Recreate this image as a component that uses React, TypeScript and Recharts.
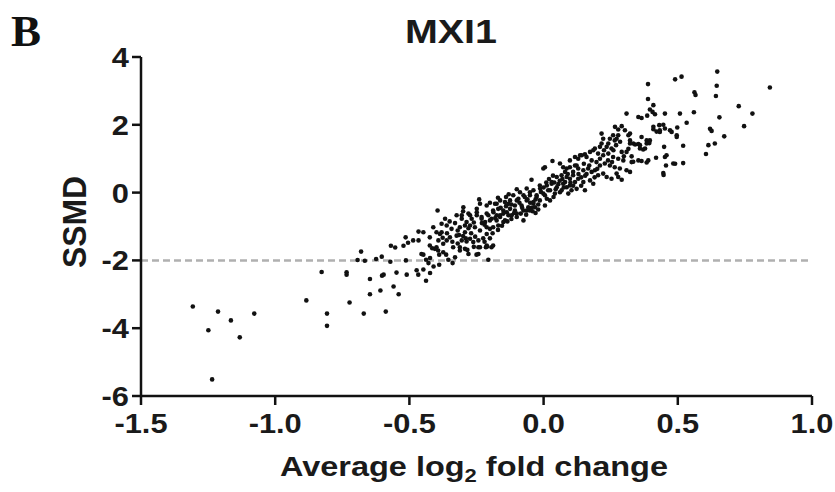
import React from 'react'
import {
  ScatterChart,
  Scatter,
  XAxis,
  YAxis,
  ReferenceLine
} from 'recharts'

// [avg log2 fold change, SSMD]
const leftTail = [
  [-1.307, -3.36], [-1.249, -4.06], [-1.213, -3.51], [-1.235, -5.51], [-1.165, -3.77],
  [-1.132, -4.27], [-1.078, -3.57], [-0.884, -3.18], [-0.827, -2.34], [-0.807, -3.57],
  [-0.807, -3.93], [-0.734, -2.35], [-0.734, -2.42], [-0.723, -3.24], [-0.68, -1.74],
  [-0.693, -1.99], [-0.666, -2.01], [-0.67, -3.57], [-0.647, -2.55], [-0.647, -3.0],
  [-0.624, -1.96], [-0.608, -2.89], [-0.603, -1.89], [-0.602, -2.45], [-0.596, -2.42],
  [-0.588, -3.51]
]

const lowerBand = [
  [-0.569, -1.57], [-0.553, -1.62], [-0.571, -2.04], [-0.548, -2.36], [-0.559, -2.77],
  [-0.54, -3.0], [-0.522, -1.57], [-0.514, -1.32], [-0.505, -1.48], [-0.513, -2.0],
  [-0.51, -2.42], [-0.466, -1.15], [-0.466, -1.41], [-0.473, -2.29], [-0.467, -2.42],
  [-0.486, -1.41], [-0.438, -2.6], [-0.448, -2.27], [-0.423, -2.37], [-0.389, -2.13],
  [-0.455, -1.81], [-0.448, -1.17], [-0.424, -1.32], [-0.424, -1.56], [-0.411, -1.02],
  [-0.405, -1.66], [-0.399, -1.17], [-0.399, -1.61], [-0.395, -0.53], [-0.393, -1.71],
  [-0.392, -1.41], [-0.386, -1.22], [-0.38, -0.92], [-0.38, -1.17], [-0.376, -1.33],
  [-0.374, -1.51], [-0.374, -1.76], [-0.367, -0.77], [-0.361, -1.41], [-0.361, -0.97],
  [-0.363, -1.83], [-0.355, -1.98], [-0.339, -2.08], [-0.349, -1.32], [-0.343, -1.07],
  [-0.337, -1.61], [-0.33, -1.91], [-0.324, -0.67], [-0.324, -1.27], [-0.415, -1.64],
  [-0.423, -1.93], [-0.429, -2.08], [-0.41, -2.18], [-0.438, -1.98], [-0.448, -1.83],
  [-0.389, -1.83], [-0.315, -1.25], [-0.312, -1.02], [-0.312, -1.61], [-0.312, -1.71],
  [-0.33, -0.9], [-0.32, -1.12], [-0.35, -0.85], [-0.36, -1.2], [-0.34, -1.45],
  [-0.32, -1.5]
]

const midBand = [
  [-0.305, -0.77], [-0.305, -1.41], [-0.305, -0.67], [-0.299, -0.43], [-0.293, -0.97],
  [-0.293, -1.17], [-0.293, -1.66], [-0.287, -0.87], [-0.284, -1.69], [-0.287, -1.44],
  [-0.28, -0.62], [-0.28, -1.81], [-0.274, -0.67], [-0.274, -0.97], [-0.274, -1.36],
  [-0.268, -0.77], [-0.262, -1.46], [-0.256, -1.02], [-0.25, -1.83], [-0.249, -0.48],
  [-0.249, -0.58], [-0.249, -0.67], [-0.243, -1.41], [-0.243, -1.61], [-0.243, -1.81],
  [-0.237, -0.33], [-0.237, -1.12], [-0.237, -1.61], [-0.231, -0.72], [-0.231, -0.77],
  [-0.218, -0.87], [-0.215, -1.61], [-0.212, -0.38], [-0.212, -0.62], [-0.212, -1.02],
  [-0.212, -1.22], [-0.212, -1.56], [-0.206, -0.67], [-0.206, -1.98], [-0.21, -1.59],
  [-0.2, -1.07], [-0.194, -0.77], [-0.194, -1.61], [-0.188, -0.53], [-0.188, -1.02],
  [-0.188, -1.56], [-0.187, -0.58], [-0.181, -0.33], [-0.175, -0.67], [-0.175, -0.33],
  [-0.175, -0.82], [-0.169, -0.48], [-0.169, -0.97], [-0.162, -0.72], [-0.162, -0.23],
  [-0.162, -0.67], [-0.15, -0.87], [-0.15, -0.53], [-0.144, -0.28], [-0.144, -0.82],
  [-0.14, -0.13], [-0.137, -0.58], [-0.131, -0.33], [-0.131, -0.67], [-0.125, -0.23],
  [-0.125, -0.48], [-0.119, -0.67], [-0.113, -0.08], [-0.107, -0.53], [-0.107, -0.38],
  [-0.1, -0.23], [-0.1, -0.62], [-0.094, -0.18], [-0.088, 0.01], [-0.082, -0.38],
  [-0.075, -0.08], [-0.075, -0.53], [-0.075, -0.82], [-0.07, -0.13], [-0.063, -0.53],
  [-0.063, 0.12], [-0.063, -0.23], [-0.057, -0.43], [-0.051, 0.01], [-0.051, -0.08],
  [-0.051, -0.53], [-0.045, 0.38], [-0.041, -0.55], [-0.038, -0.33], [-0.038, 0.07],
  [-0.038, -0.28], [-0.032, -0.43], [-0.026, -0.13], [-0.026, -0.08], [-0.014, 0.21],
  [-0.014, -0.23], [-0.013, 0.12], [-0.001, -0.03], [-0.001, 0.71],
  [-0.28, -1.05], [-0.26, -0.88], [-0.22, -0.95], [-0.2, -0.82], [-0.18, -0.75],
  [-0.16, -0.45], [-0.15, -0.62], [-0.14, -0.4], [-0.12, -0.35], [-0.11, -0.6],
  [-0.09, -0.3], [-0.08, -0.45], [-0.06, -0.2], [-0.05, -0.3], [-0.03, -0.2],
  [-0.02, -0.35], [-0.01, 0.02], [-0.3, -1.28], [-0.27, -1.2], [-0.255, -1.3],
  [-0.23, -0.9], [-0.225, -1.35], [-0.19, -1.2], [-0.17, -1.1], [-0.155, -0.98],
  [-0.135, -0.85], [-0.12, -0.78], [-0.1, -0.72], [-0.085, -0.62], [-0.065, -0.65],
  [-0.045, -0.45], [-0.03, -0.6], [-0.02, -0.5], [-0.24, -0.2], [-0.2, -0.3],
  [-0.17, -0.15], [-0.13, -0.05], [-0.1, 0.1], [-0.3, -0.55], [-0.29, -1.35],
  [-0.26, -1.6], [-0.22, -1.45], [-0.2, -1.35]
]

const upperBand = [
  [0.005, -0.08], [0.005, 0.75], [0.005, -0.38], [0.012, 0.21], [0.012, -0.18],
  [0.017, 0.07], [0.024, -0.23], [0.024, 0.07], [0.03, 0.26], [0.03, 0.31],
  [0.033, 0.93], [0.037, -0.13], [0.042, -0.03], [0.049, 0.16], [0.049, 0.46],
  [0.061, 0.01], [0.061, 0.86], [0.067, 0.51], [0.067, 0.07], [0.073, 0.26],
  [0.073, 0.75], [0.08, 0.31], [0.08, 0.61], [0.086, 0.16], [0.086, 0.46],
  [0.086, 0.71], [0.092, -0.03], [0.098, 0.21], [0.098, 0.41], [0.098, 0.75],
  [0.098, 0.95], [0.104, 0.07], [0.11, 0.51], [0.11, 0.61], [0.117, 0.31],
  [0.117, 0.8], [0.117, 1.05], [0.123, 0.11], [0.123, 0.8], [0.129, 0.41],
  [0.129, 0.71], [0.129, 1.0], [0.136, 1.1], [0.142, 1.1], [0.148, 0.31],
  [0.148, 0.66], [0.154, 0.07], [0.154, 1.13], [0.16, 1.05], [0.166, 0.71],
  [0.173, 0.36], [0.173, 1.2], [0.179, 0.61], [0.179, 0.95], [0.185, 0.26],
  [0.185, 1.25], [0.191, 0.66], [0.191, 1.3], [0.197, 0.9], [0.203, 0.51],
  [0.203, 1.15], [0.21, 0.8], [0.21, 1.35], [0.216, 1.45], [0.216, 1.74],
  [0.222, 0.56], [0.222, 1.1], [0.222, 1.59], [0.228, 0.86], [0.235, 0.46],
  [0.235, 1.35], [0.241, 1.15], [0.241, 1.45], [0.247, 0.8], [0.247, 1.59],
  [0.253, 0.41], [0.253, 1.3], [0.259, 1.05], [0.259, 1.69], [0.265, 0.75],
  [0.265, 1.54], [0.266, 1.94], [0.272, 0.56], [0.272, 1.59], [0.278, 0.46],
  [0.278, 1.0], [0.278, 1.69], [0.278, 1.86], [0.284, 0.71], [0.291, 0.38],
  [0.291, 1.2], [0.291, 1.96], [0.297, 0.95], [0.299, 1.07], [0.303, 1.84],
  [0.309, 0.66], [0.309, 1.2], [0.309, 2.33],
  [0.02, 0.4], [0.04, 0.3], [0.055, 0.25], [0.07, 0.4], [0.09, 0.55],
  [0.1, 0.3], [0.13, 0.55], [0.14, 0.45], [0.15, 0.85], [0.16, 0.55],
  [0.17, 0.8], [0.19, 0.45], [0.2, 0.7], [0.21, 1.0], [0.225, 1.25],
  [0.24, 0.95], [0.255, 0.9], [0.26, 1.25], [0.27, 1.4], [0.285, 1.5],
  [0.0, 0.15], [0.01, 0.3], [0.035, 0.5], [0.045, 0.1], [0.06, 0.35],
  [0.075, 0.15], [0.11, 0.2], [0.14, 0.2], [0.155, 0.5]
]

const rightTail = [
  [0.316, 1.29], [0.316, 1.69], [0.322, 0.61], [0.322, 1.45], [0.322, 1.54],
  [0.322, 1.74], [0.328, 0.9], [0.328, 1.07], [0.334, 0.91], [0.334, 1.45],
  [0.341, 1.42], [0.353, 1.43], [0.353, 0.95], [0.353, 2.23], [0.359, 1.3],
  [0.359, 1.4], [0.365, 0.93], [0.365, 1.64], [0.365, 2.2], [0.371, 1.27],
  [0.378, 1.3], [0.384, 0.89], [0.384, 1.45], [0.384, 1.54], [0.386, 2.27],
  [0.389, 2.76], [0.389, 3.2], [0.39, 0.95], [0.394, 1.46], [0.396, 1.54],
  [0.396, 2.45], [0.406, 2.38], [0.409, 1.87], [0.409, 1.94], [0.409, 2.58],
  [0.415, 2.31], [0.419, 1.03], [0.421, 1.8], [0.431, 1.99], [0.433, 1.79],
  [0.433, 1.84], [0.446, 0.58], [0.446, 2.0], [0.449, 1.35], [0.452, 1.05],
  [0.452, 1.89], [0.452, 2.33], [0.456, 0.8], [0.458, 1.1], [0.471, 1.84],
  [0.477, 1.79], [0.483, 0.86], [0.49, 3.34], [0.49, 0.85], [0.496, 1.64],
  [0.496, 1.69], [0.498, 1.92], [0.508, 2.33], [0.514, 3.42], [0.52, 0.87],
  [0.52, 1.38], [0.533, 2.06], [0.56, 2.37], [0.562, 2.96], [0.566, 2.88],
  [0.605, 1.14], [0.614, 1.4], [0.62, 1.88], [0.626, 1.82], [0.638, 1.45],
  [0.642, 2.85], [0.645, 3.15], [0.647, 3.57], [0.655, 2.22], [0.673, 1.66],
  [0.727, 2.55], [0.747, 1.96], [0.778, 2.33], [0.843, 3.1], [0.447, 0.52]
]

const xTicks = [-1.5, -1.0, -0.5, 0.0, 0.5, 1.0]
const yTicks = [-6, -4, -2, 0, 2, 4]

const groups = [leftTail, lowerBand, midBand, upperBand, rightTail]

const toPoints = (arr: number[][]) => arr.map(([x, y]) => ({ x, y }))

const Dot = (props: any) => (
  <circle cx={props.cx} cy={props.cy} r={2.3} fill="#111" />
)

const font = '"Liberation Sans", Arial, sans-serif'
const tickFont = 28

// bold, slightly wide tick labels like the original figure
const XTick = (props: any) => {
  const { x, y, payload } = props
  return (
    <g transform={`translate(${x},${y + 6})`}>
      <text
        transform="scale(1.1,1)"
        textAnchor="middle"
        dy={tickFont * 0.72}
        fontFamily={font}
        fontWeight={700}
        fontSize={tickFont}
        fill="#1a1a1a"
      >
        {Number(payload.value).toFixed(1)}
      </text>
    </g>
  )
}

const YTick = (props: any) => {
  const { x, y, payload } = props
  return (
    <g transform={`translate(${x - 1},${y})`}>
      <text
        transform="scale(1.1,1)"
        textAnchor="end"
        dy={tickFont * 0.36}
        fontFamily={font}
        fontWeight={700}
        fontSize={tickFont}
        fill="#1a1a1a"
      >
        {payload.value}
      </text>
    </g>
  )
}

const App = () => {
  return (
    <div style={{ position: 'absolute', left: 0, top: 0, width: 835, height: 492 }}>
      <ScatterChart
        width={835}
        height={492}
        margin={{ top: 57, right: 23, bottom: 36, left: 71 }}
      >
        <XAxis
          type="number"
          dataKey="x"
          domain={[-1.5, 1.0]}
          ticks={xTicks}
          allowDataOverflow
          height={60}
          tickSize={9}
          axisLine={{ stroke: '#111', strokeWidth: 2.5 }}
          tickLine={{ stroke: '#111', strokeWidth: 2.5 }}
          tick={XTick}
        />
        <YAxis
          type="number"
          dataKey="y"
          domain={[-6, 4]}
          ticks={yTicks}
          allowDataOverflow
          width={70}
          tickSize={9}
          axisLine={{ stroke: '#111', strokeWidth: 2.5 }}
          tickLine={{ stroke: '#111', strokeWidth: 2.5 }}
          tick={YTick}
        />
        <ReferenceLine y={-2} stroke="#b0b0b0" strokeWidth={2.5} strokeDasharray="7 4" />
        {groups.map((g, i) => (
          <Scatter key={i} data={toPoints(g)} shape={Dot} isAnimationActive={false} />
        ))}
      </ScatterChart>
      <svg
        width={835}
        height={492}
        style={{ position: 'absolute', left: 0, top: 0, pointerEvents: 'none' }}
      >
        <text x={11} y={46} fontFamily='"Liberation Serif", "Times New Roman", serif' fontWeight={700} fontSize={45} fill="#111">B</text>
        <text x={451} y={43} textAnchor="middle" textLength={92} lengthAdjust="spacingAndGlyphs" fontFamily={font} fontWeight={700} fontSize={33} fill="#1a1a1a">MXI1</text>
        <text x={474} y={476} textAnchor="middle" textLength={388} lengthAdjust="spacingAndGlyphs" fontFamily={font} fontWeight={700} fontSize={28} fill="#1a1a1a">
          Average log<tspan fontSize={19} dy={6}>2</tspan><tspan dy={-6}> fold change</tspan>
        </text>
        <text
          x={86}
          y={222}
          textAnchor="middle"
          transform="rotate(-90, 86, 222)"
          textLength={92}
          lengthAdjust="spacingAndGlyphs"
          fontFamily={font}
          fontWeight={700}
          fontSize={33}
          fill="#1a1a1a"
        >
          SSMD
        </text>
      </svg>
    </div>
  )
}

export default App
